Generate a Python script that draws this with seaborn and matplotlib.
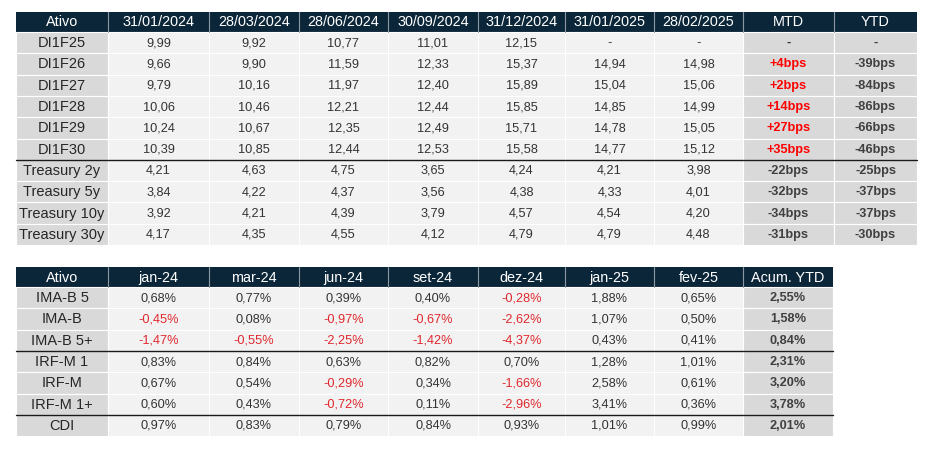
import matplotlib
matplotlib.use("Agg")
import matplotlib.pyplot as plt
from matplotlib.patches import Rectangle
import seaborn as sns

# ---- data: table 1 (rates) ----
header1 = ["Ativo", "31/01/2024", "28/03/2024", "28/06/2024", "30/09/2024",
           "31/12/2024", "31/01/2025", "28/02/2025", "MTD", "YTD"]
assets1 = ["DI1F25", "DI1F26", "DI1F27", "DI1F28", "DI1F29", "DI1F30",
           "Treasury 2y", "Treasury 5y", "Treasury 10y", "Treasury 30y"]
di1f25 = [9.99, 9.92, 10.77, 11.01, 12.15, None, None]
di1f26 = [9.66, 9.90, 11.59, 12.33, 15.37, 14.94, 14.98]
di1f27 = [9.79, 10.16, 11.97, 12.40, 15.89, 15.04, 15.06]
di1f28 = [10.06, 10.46, 12.21, 12.44, 15.85, 14.85, 14.99]
di1f29 = [10.24, 10.67, 12.35, 12.49, 15.71, 14.78, 15.05]
di1f30 = [10.39, 10.85, 12.44, 12.53, 15.58, 14.77, 15.12]
ust2y = [4.21, 4.63, 4.75, 3.65, 4.24, 4.21, 3.98]
ust5y = [3.84, 4.22, 4.37, 3.56, 4.38, 4.33, 4.01]
ust10y = [3.92, 4.21, 4.39, 3.79, 4.57, 4.54, 4.20]
ust30y = [4.17, 4.35, 4.55, 4.12, 4.79, 4.79, 4.48]
mtd_bps = [None, 4, 2, 14, 27, 35, -22, -32, -34, -31]
ytd_bps = [None, -39, -84, -86, -66, -46, -25, -37, -37, -30]

# ---- data: table 2 (index returns, %) ----
header2 = ["Ativo", "jan-24", "mar-24", "jun-24", "set-24", "dez-24",
           "jan-25", "fev-25", "Acum. YTD"]
assets2 = ["IMA-B 5", "IMA-B", "IMA-B 5+", "IRF-M 1", "IRF-M", "IRF-M 1+", "CDI"]
imab5 = [0.68, 0.77, 0.39, 0.40, -0.28, 1.88, 0.65]
imab = [-0.45, 0.08, -0.97, -0.67, -2.62, 1.07, 0.50]
imab5p = [-1.47, -0.55, -2.25, -1.42, -4.37, 0.43, 0.41]
irfm1 = [0.83, 0.84, 0.63, 0.82, 0.70, 1.28, 1.01]
irfm = [0.67, 0.54, -0.29, 0.34, -1.66, 2.58, 0.61]
irfm1p = [0.60, 0.43, -0.72, 0.11, -2.96, 3.41, 0.36]
cdi = [0.97, 0.83, 0.79, 0.84, 0.93, 1.01, 0.99]
acum_ytd = [2.55, 1.58, 0.84, 2.31, 3.20, 3.78, 2.01]

rows1 = [di1f25, di1f26, di1f27, di1f28, di1f29, di1f30, ust2y, ust5y, ust10y, ust30y]
rows2 = [imab5, imab, imab5p, irfm1, irfm, irfm1p, cdi]

# ---- style ----
NAVY = "#0c2639"
LABEL_BG = "#d9d9d9"
CELL_BG = "#f2f2f2"
TXT = "#333333"
RED_BOLD = "#ff0000"
RED = "#e0282e"
FONT = ["Liberation Sans", "DejaVu Sans"]

sns.set_theme(style="white")
plt.rcParams["font.family"] = FONT

fig = plt.figure(figsize=(9.32, 4.65), dpi=100)
ax = fig.add_axes([0, 0, 1, 1])
ax.set_xlim(0, 932)
ax.set_ylim(465, 0)
ax.axis("off")


def fmt(v, suffix=""):
    if v is None:
        return "-"
    return f"{v:.2f}".replace(".", ",") + suffix


def cell(x0, x1, y0, y1, color):
    ax.add_patch(Rectangle((x0, y0), x1 - x0, y1 - y0, facecolor=color,
                           edgecolor="white", linewidth=0.8))


def text(x0, x1, y0, y1, s, color=TXT, size=9.2, bold=False):
    ax.text((x0 + x1) / 2, (y0 + y1) / 2 + 0.5, s, ha="center", va="center",
            color=color, fontsize=size, fontweight="bold" if bold else "normal")


def header(xs, y0, y1, labels):
    ax.add_patch(Rectangle((xs[0], y0), xs[-1] - xs[0], y1 - y0,
                           facecolor=NAVY, edgecolor="none"))
    for i, lab in enumerate(labels):
        if i > 0:
            ax.plot([xs[i], xs[i]], [y0, y1], color="#8c99a5", lw=0.8)
        text(xs[i], xs[i + 1], y0, y1, lab, color="white", size=10.4)


RH = 21.3

# ---- table 1 ----
xs1 = [16, 108, 209, 299, 388, 478, 565, 654, 743, 834, 917]
top1 = 12
header(xs1, top1, top1 + 20, header1)
y = top1 + 20
for r, (name, vals) in enumerate(zip(assets1, rows1)):
    y0, y1 = y + r * RH, y + (r + 1) * RH
    cell(xs1[0], xs1[1], y0, y1, LABEL_BG)
    text(xs1[0], xs1[1], y0, y1, name, color="#262626", size=10.5)
    for c, v in enumerate(vals):
        cell(xs1[c + 1], xs1[c + 2], y0, y1, CELL_BG)
        text(xs1[c + 1], xs1[c + 2], y0, y1, fmt(v))
    m, t = mtd_bps[r], ytd_bps[r]
    cell(xs1[8], xs1[9], y0, y1, LABEL_BG)
    cell(xs1[9], xs1[10], y0, y1, LABEL_BG)
    if m is None:
        text(xs1[8], xs1[9], y0, y1, "-", bold=True)
    else:
        text(xs1[8], xs1[9], y0, y1, f"{m:+d}bps",
             color=RED_BOLD if m > 0 else "#404040", bold=True)
    text(xs1[9], xs1[10], y0, y1, "-" if t is None else f"{t:+d}bps".replace("+", ""),
         color="#404040", bold=True)
ax.plot([xs1[0], xs1[-1]], [y + 6 * RH, y + 6 * RH], color="#1a1a1a", lw=1.0)

# ---- table 2 ----
xs2 = [16, 108, 209, 299, 388, 478, 565, 654, 743, 833]
top2 = 267
header(xs2, top2, top2 + 20, header2)
y = top2 + 20
for r, (name, vals) in enumerate(zip(assets2, rows2)):
    y0, y1 = y + r * RH, y + (r + 1) * RH
    cell(xs2[0], xs2[1], y0, y1, LABEL_BG)
    text(xs2[0], xs2[1], y0, y1, name, color="#262626", size=10.5)
    for c, v in enumerate(vals):
        cell(xs2[c + 1], xs2[c + 2], y0, y1, CELL_BG)
        text(xs2[c + 1], xs2[c + 2], y0, y1, fmt(v, "%"),
             color=RED if v < 0 else TXT)
    cell(xs2[8], xs2[9], y0, y1, LABEL_BG)
    text(xs2[8], xs2[9], y0, y1, fmt(acum_ytd[r], "%"), color="#404040", bold=True)
for k in (3, 6):
    ax.plot([xs2[0], xs2[-1]], [y + k * RH, y + k * RH], color="#1a1a1a", lw=1.0)

fig.savefig("out.png", dpi=100, facecolor="white")
